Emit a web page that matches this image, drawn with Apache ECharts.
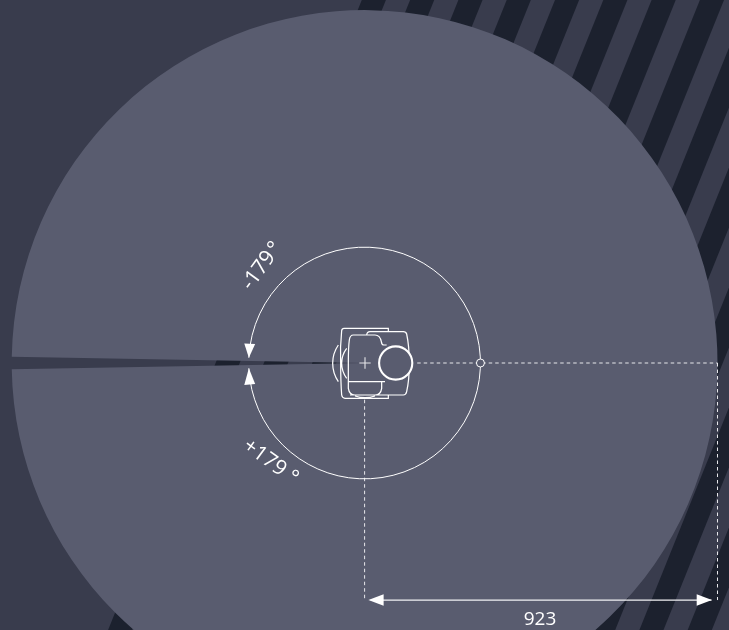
<!DOCTYPE html>
<html>
<head>
<meta charset="utf-8">
<style>html,body{margin:0;padding:0;background:#393c4d}#c{width:729px;height:630px}</style>
<script src="https://cdn.jsdelivr.net/npm/echarts@6/dist/echarts.min.js"></script>
</head>
<body>
<div id="c"></div>
<script>
// ---- values ----
const rangeMm = [923];                 // scanning radius (mm)
const fieldOfViewDeg = [-179, 179];    // scanning angle limits
const rangeLabels = ['923'];
const angleLabels = ['-179\u200a°', '+179 °'];

// ---- drawing constants ----
const W = 729, H = 630;
const CX = 364.6, CY = 363;            // sensor centre on the page
const PX_PER_MM = 352.9 / rangeMm[0];
const BG = '#393c4d', DARK = '#1c212e', DISC = '#595c6f', INK = '#ffffff';
const FONT = '"Open Sans"';

const stripeElements = [];
for (let top = 361.8; top < W + 300; top += 48.3) {
  stripeElements.push({
    type: 'polygon', silent: true, z: 0,
    shape: { points: [[top, 0], [top + 24.1, 0], [top + 24.1 - H * 0.4027, H], [top - H * 0.4027, H]] },
    style: { fill: DARK }
  });
}

const rad = d => d * Math.PI / 180;
const ROBOT = 'M205,65 V55 H72 Q66,55 65,62 Q60,110 62,160 Q62,215 65,255 Q67,265 75,265 H205 V255 ' +
  'M140,75 Q141,65 150,65 H250 Q258,65 260,72 Q268,110 268,160 Q268,210 260,245 Q258,255 250,255 H90 ' +
  'M200,105 H192 Q185,105 184,95 Q180,75 165,75 H100 Q90,75 88,90 Q85,110 85,160 V235 Q88,255 105,255 H165 Q182,255 185,235 V215 ' +
  'M85,215 H195 M55,105 Q38,130 38,160 Q38,190 55,215 M80,115 Q65,135 65,160 Q65,185 80,205 M105,258 Q135,268 165,258';
const PLUS = 'M118,159 H152 M135,142 V176';

function renderAll(params, api) {
  const [cx, cy] = api.coord([0, 0]);
  const r = api.size([rangeMm[0], 0])[0];
  const [, dimY] = api.coord([0, -620]);
  const [, robotBottom] = api.coord([0, -96]);
  const [robotRight] = api.coord([135, 0]);
  const [tickX] = api.coord([303, 0]);
  const ringR = tickX - cx;
  const thin = { stroke: INK, fill: null, lineWidth: 1 };
  const dash = { stroke: '#e8e8ec', fill: null, lineWidth: 1, lineDash: [3.5, 3] };
  const arcLim = 177.4;
  const tipU = [cx + ringR * Math.cos(rad(arcLim)), cy - ringR * Math.sin(rad(arcLim))];
  const tipD = [tipU[0], cy + ringR * Math.sin(rad(arcLim))];
  const tri = (pts) => ({ type: 'polygon', shape: { points: pts }, style: { fill: INK } });
  const text = (t, x, y, rot, size) => ({
    type: 'text', x, y, rotation: rad(rot),
    style: { text: t, fill: INK, font: '400 ' + size + 'px ' + FONT, textAlign: 'center', textVerticalAlign: 'middle' }
  });
  return {
    type: 'group',
    children: [
      { type: 'sector',
        shape: { cx, cy, r, r0: 0, startAngle: rad(fieldOfViewDeg[0]), endAngle: rad(fieldOfViewDeg[1]), clockwise: true },
        style: { fill: DISC } },
      // dashed construction lines
      { type: 'line', shape: { x1: robotRight + 1, y1: cy, x2: cx + r, y2: cy }, style: dash },
      { type: 'line', shape: { x1: cx, y1: robotBottom, x2: cx, y2: dimY }, style: dash },
      { type: 'line', shape: { x1: cx + r, y1: cy, x2: cx + r, y2: dimY }, style: dash },
      // dimension arrow
      { type: 'line', shape: { x1: cx + 6, y1: dimY, x2: cx + r - 6, y2: dimY }, style: { stroke: '#f2f2f4', lineWidth: 1.3 } },
      tri([[cx + 3.8, dimY], [cx + 19, dimY - 5.8], [cx + 19, dimY + 5.8]]),
      tri([[cx + r - 5.6, dimY], [cx + r - 20.8, dimY - 5.8], [cx + r - 20.8, dimY + 5.8]]),
      text(rangeLabels[0], 540, 620, 0, 19),
      // angular range ring
      { type: 'arc', shape: { cx, cy, r: ringR, startAngle: rad(-arcLim), endAngle: rad(arcLim), clockwise: true }, style: thin },
      tri([tipU, [tipU[0] - 4.6, cy - 19.5], [tipU[0] + 6.3, cy - 19]]),
      tri([tipD, [tipD[0] - 4.6, cy + 22], [tipD[0] + 6.3, cy + 21]]),
      { type: 'circle', shape: { cx: tickX, cy, r: 4 }, style: { fill: DISC, stroke: INK, lineWidth: 1 } },
      text(angleLabels[0], 262, 266, 54, 21),
      text(angleLabels[1], 270.5, 462, -36, 21),
      // sensor outline
      { type: 'path', x: cx - 133.8 / 3, y: cy - 159 / 3, scaleX: 1 / 3, scaleY: 1 / 3,
        shape: { pathData: ROBOT }, style: { stroke: INK, fill: null, lineWidth: 3.7 } },
      { type: 'path', x: cx - 133.8 / 3, y: cy - 159 / 3, scaleX: 1 / 3, scaleY: 1 / 3,
        shape: { pathData: PLUS }, style: { stroke: '#e6e6ea', fill: null, lineWidth: 3.3 } },
      { type: 'circle', shape: { cx: cx + 31.1, cy, r: 16.6 }, style: { fill: DISC, stroke: INK, lineWidth: 2.1 } }
    ]
  };
}

const chart = echarts.init(document.getElementById('c'), null, { width: W, height: H, renderer: 'canvas' });
chart.setOption({
  animation: false,
  backgroundColor: BG,
  grid: { left: 0, right: 0, top: 0, bottom: 0 },
  xAxis: { type: 'value', show: false, min: -CX / PX_PER_MM, max: (W - CX) / PX_PER_MM },
  yAxis: { type: 'value', show: false, min: -(H - CY) / PX_PER_MM, max: CY / PX_PER_MM },
  graphic: { elements: stripeElements },
  series: [{
    type: 'custom', coordinateSystem: 'cartesian2d', clip: false, silent: true,
    data: [[0, 0]], renderItem: renderAll
  }]
});
</script>
</body>
</html>
